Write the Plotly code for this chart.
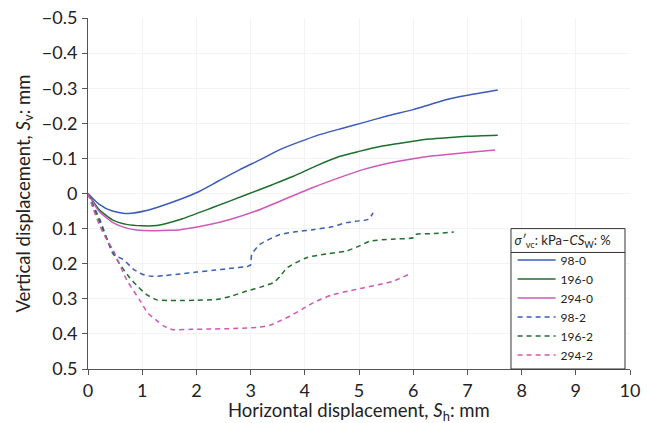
import plotly.graph_objects as go

# ---- data ----
x_98_0 = [0, 0.2, 0.45, 0.74, 1.1, 1.5, 2.0, 2.4, 2.8, 3.2, 3.54, 3.9, 4.22, 4.65, 5.08, 5.5, 6.0, 6.3, 6.62, 7.0, 7.56]
y_98_0 = [0, 0.03, 0.05, 0.057, 0.048, 0.028, -0.002, -0.035, -0.068, -0.098, -0.125, -0.147, -0.165, -0.184, -0.202, -0.22, -0.239, -0.253, -0.268, -0.28, -0.295]

x_196_0 = [0, 0.2, 0.45, 0.71, 1.0, 1.27, 1.7, 2.3, 2.93, 3.4, 3.79, 4.2, 4.65, 5.0, 5.39, 5.7, 6.0, 6.3, 6.62, 7.0, 7.56]
y_196_0 = [0, 0.045, 0.075, 0.088, 0.092, 0.091, 0.074, 0.04, 0.003, -0.025, -0.049, -0.078, -0.106, -0.12, -0.134, -0.142, -0.149, -0.155, -0.159, -0.163, -0.166]

x_294_0 = [0, 0.2, 0.45, 0.7, 0.9, 1.2, 1.5, 1.7, 2.2, 2.62, 3.1, 3.54, 4.15, 4.6, 5.07, 5.5, 6.0, 6.3, 6.62, 7.0, 7.51]
y_294_0 = [0, 0.05, 0.082, 0.098, 0.104, 0.106, 0.105, 0.103, 0.09, 0.074, 0.05, 0.022, -0.017, -0.043, -0.068, -0.085, -0.099, -0.106, -0.111, -0.117, -0.124]

x_98_2 = [0, 0.1, 0.22, 0.35, 0.47, 0.65, 0.84, 1.0, 1.17, 1.4, 1.7, 2.0, 2.31, 2.6, 2.96, 3.0, 3.02, 3.17, 3.35, 3.54, 3.8, 4.15, 4.5, 4.77, 5.0, 5.17, 5.26]
y_98_2 = [0, 0.035, 0.074, 0.13, 0.174, 0.188, 0.216, 0.23, 0.236, 0.234, 0.229, 0.224, 0.219, 0.214, 0.207, 0.203, 0.174, 0.145, 0.13, 0.117, 0.11, 0.103, 0.095, 0.083, 0.078, 0.074, 0.055]

x_196_2 = [0, 0.1, 0.22, 0.38, 0.53, 0.77, 0.92, 1.08, 1.27, 1.5, 1.7, 2.0, 2.37, 2.65, 2.93, 3.2, 3.42, 3.55, 3.67, 4.03, 4.4, 4.77, 5.0, 5.2, 5.6, 6.0, 6.04, 6.4, 6.75]
y_196_2 = [0, 0.04, 0.083, 0.14, 0.188, 0.24, 0.265, 0.288, 0.303, 0.305, 0.305, 0.304, 0.302, 0.292, 0.278, 0.266, 0.254, 0.235, 0.212, 0.183, 0.172, 0.164, 0.15, 0.136, 0.13, 0.126, 0.117, 0.114, 0.11]

x_294_2 = [0, 0.1, 0.22, 0.34, 0.46, 0.71, 0.96, 1.1, 1.27, 1.4, 1.57, 1.9, 2.31, 2.6, 2.93, 3.15, 3.36, 3.55, 3.73, 3.95, 4.16, 4.52, 4.8, 5.08, 5.35, 5.63, 5.91]
y_294_2 = [0, 0.045, 0.093, 0.13, 0.16, 0.245, 0.305, 0.34, 0.362, 0.378, 0.388, 0.387, 0.386, 0.385, 0.383, 0.381, 0.375, 0.362, 0.349, 0.33, 0.311, 0.288, 0.278, 0.269, 0.26, 0.25, 0.231]

names = ["98-0", "196-0", "294-0", "98-2", "196-2", "294-2"]
xs = [x_98_0, x_196_0, x_294_0, x_98_2, x_196_2, x_294_2]
ys = [y_98_0, y_196_0, y_294_0, y_98_2, y_196_2, y_294_2]
colors = ["#3b5cb8", "#1e6e2e", "#cf58b9", "#3b5cb8", "#1e6e2e", "#cf58b9"]
dashes = ["solid", "solid", "solid", "5px,4px", "5px,4px", "5px,4px"]

x_ticks = list(range(0, 11))
y_ticks = [-0.5, -0.4, -0.3, -0.2, -0.1, 0, 0.1, 0.2, 0.3, 0.4, 0.5]
y_tick_text = ["\u22120.5", "\u22120.4", "\u22120.3", "\u22120.2", "\u22120.1", "0", "0.1", "0.2", "0.3", "0.4", "0.5"]

x_title = "Horizontal displacement, <i>S</i><sub>h</sub>: mm"
y_title = "Vertical displacement, <i>S</i><sub>v</sub>: mm"
legend_title = "<i>σ′</i><sub>vc</sub>: kPa–<i>CS</i><sub>W</sub>: %"

FONT = "Lato"
TXT = "#222222"
# legend frame (paper coords)
FR_X0, FR_X1, FR_Y0, FR_Y1, FR_SEP = 0.7804, 0.9908, 0.0, 0.40, 0.332

fig = go.Figure()
for x, y, n, c, d in zip(xs, ys, names, colors, dashes):
    fig.add_trace(go.Scatter(x=x, y=y, name=n, mode="lines",
                             line=dict(color=c, width=1.5, dash=d, shape="spline", smoothing=0.6)))

fig.update_layout(
    width=647, height=423,
    margin=dict(l=88, r=17, t=18, b=54, autoexpand=False),
    paper_bgcolor="white", plot_bgcolor="white",
    font=dict(family=FONT, size=18, color=TXT),
    legend=dict(
        x=FR_X0 + 0.003, y=FR_Y1, xanchor="left", yanchor="top",
        bgcolor="rgba(255,255,255,0)", borderwidth=0, itemwidth=38,
        font=dict(family=FONT, size=12, color=TXT),
        title=dict(text=legend_title, font=dict(family=FONT, size=13, color=TXT)),
        tracegroupgap=0,
    ),
    xaxis=dict(
        range=[0, 10], tickvals=x_ticks, ticks="outside", ticklen=5, tickcolor="#555555",
        showline=True, linecolor="#555555", linewidth=1, automargin=False,
        showgrid=True, gridcolor="#f3f3f3", zeroline=False,
        tickfont=dict(size=18),
    ),
    yaxis=dict(
        range=[0.5, -0.5], tickvals=y_ticks, ticktext=y_tick_text,
        ticks="outside", ticklen=5, tickcolor="#555555", ticklabelstandoff=1,
        showline=True, linecolor="#555555", linewidth=1, automargin=False,
        showgrid=True, gridcolor="#f3f3f3", zeroline=False,
        tickfont=dict(size=18),
    ),
    annotations=[
        dict(text=x_title, xref="paper", yref="paper", x=0.5, y=-0.122,
             xanchor="center", yanchor="middle", showarrow=False,
             font=dict(family=FONT, size=18.5, color=TXT)),
        dict(text=y_title, xref="paper", yref="paper", x=-0.118, y=0.5,
             xanchor="center", yanchor="middle", textangle=-90, showarrow=False,
             font=dict(family=FONT, size=18.5, color=TXT)),
    ],
    shapes=[
        dict(type="rect", xref="paper", yref="paper",
             x0=FR_X0, x1=FR_X1, y0=FR_Y0, y1=FR_Y1,
             fillcolor="white", line=dict(color="#333333", width=1), layer="above"),
        dict(type="line", xref="paper", yref="paper",
             x0=FR_X0, x1=FR_X1, y0=FR_SEP, y1=FR_SEP,
             line=dict(color="#333333", width=1), layer="above"),
    ],
)

fig.write_html("out.html", config={"displayModeBar": False},
               post_script="document.body.style.margin='0';")
